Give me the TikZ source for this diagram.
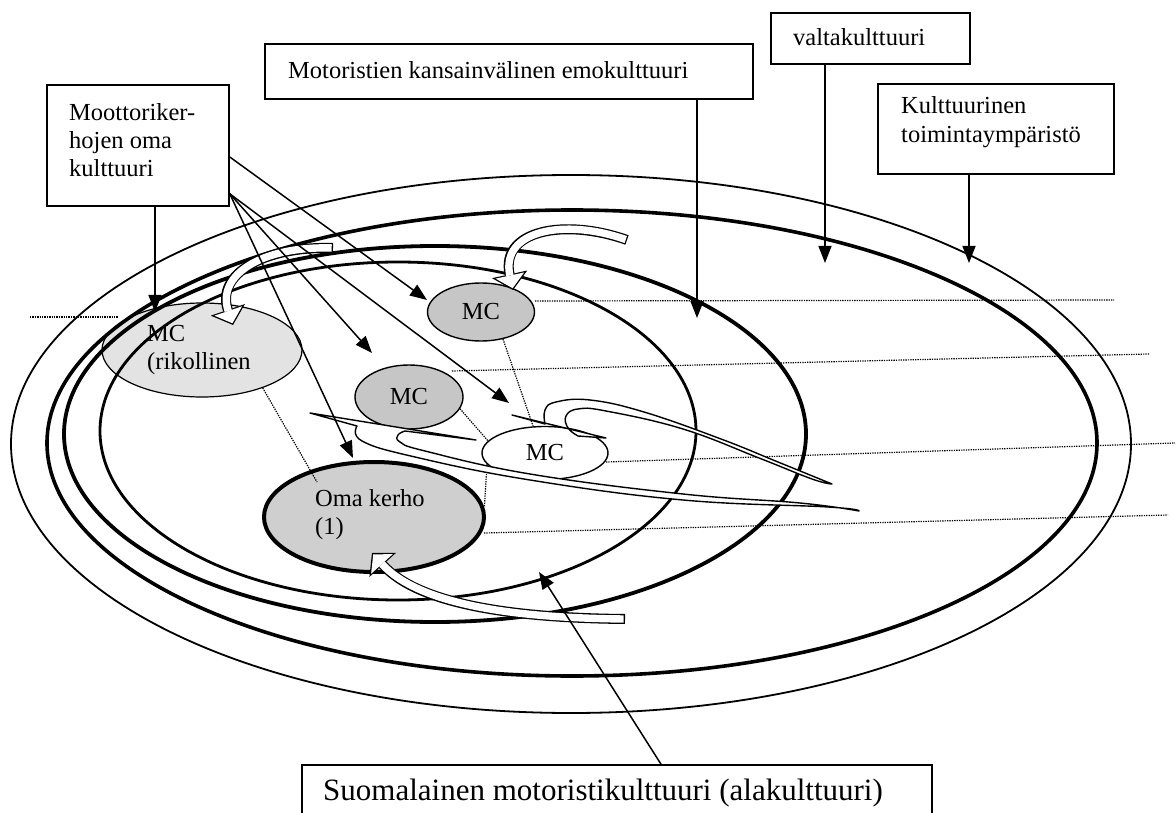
\documentclass[tikz,border=0pt]{standalone}
\usepackage{fontspec}
\setmainfont{Liberation Serif}
\usetikzlibrary{arrows.meta,shapes.geometric,calc}
\newcommand\hollowarrow[1]{\draw[hout] #1; \draw[hin] #1;}
\begin{document}
\begin{tikzpicture}[x=1pt,y=-1pt,
  fnt/.style={font=\fontsize{24.5}{28}\selectfont},
  box/.style={draw, line width=1.6pt, inner sep=0pt},
  lbl/.style={fnt, inner sep=0pt, anchor=west, align=left},
  mc/.style={ellipse, draw, line width=1.4pt, inner sep=0pt, fnt},
  arr/.style={line width=1.5pt, -{Triangle[length=17pt,width=13pt]}},
  dot/.style={line width=1.2pt, dash pattern=on 1.3pt off 1.1pt},
  hshape/.style={draw, fill=white, line width=1.4pt, line join=round},
  hout/.style={line width=10pt, -{Triangle[length=16pt,width=36pt,line width=0pt]}},
  hin/.style={line width=7.4pt, white, shorten <=1.3pt, shorten >=1.8pt, -{Triangle[length=13pt,width=29.2pt,line width=0pt]}},
]
\useasboundingbox (0,0) rectangle (1176,813);
\fill[white] (0,0) rectangle (1176,813);

% ---- MC ellipses (drawn first, big ellipses cross over them)
\node[mc, line width=1.2pt, fill=gray!22, minimum width=200pt, minimum height=94pt] (mcR) at (202,350) {};
\node[mc, fill=gray!45, minimum width=107pt, minimum height=58pt] (mcT) at (481,312) {MC};
\node[mc, fill=gray!45, minimum width=108pt, minimum height=64pt] (mcM) at (409,397) {MC};
\node[mc, fill=white, minimum width=126pt, minimum height=53pt] (mcW) at (545,453) {MC};
\node[mc, line width=4pt, fill=gray!38, minimum width=220pt, minimum height=110pt] (ok) at (374,517) {};
\node[lbl] (tR) at (147,350) {MC\\(rikollinen};
\node[lbl] (tO) at (315,515) {Oma kerho\\(1)};

% ---- big culture ellipses
\draw[line width=1.8pt] (571,444) ellipse [x radius=560pt, y radius=269pt];
\draw[line width=3.6pt] (572,443) ellipse [x radius=525pt, y radius=233pt];
\draw[line width=3.8pt] (435,434) ellipse [x radius=371pt, y radius=188pt];
\draw[line width=2.8pt] (398,431) ellipse [x radius=298pt, y radius=169pt];

% ---- dotted layer lines
\coordinate (d1a) at (30,317);   \coordinate (d1b) at (118,317);
\coordinate (d2a) at (535,301);  \coordinate (d2b) at (1114,300);
\coordinate (d3a) at (452,371);  \coordinate (d3b) at (1149,354);
\coordinate (d4a) at (606,462);  \coordinate (d4b) at (1175,443);
\coordinate (d5a) at (484,533);  \coordinate (d5b) at (1168,515);
\draw[dot] (d1a) -- (d1b);
\draw[dot] (d2a) -- (d2b);
\draw[dot] (d3a) -- (d3b);
\draw[dot] (d4a) -- (d4b);
\draw[dot] (d5a) -- (d5b);
\coordinate (c1end) at (317,482);
\draw[dot] (mcR.-32) -- (c1end);
\draw[dot] (mcT.-51) -- (mcW.114);
\draw[dot] (mcM.-13) -- (mcW.168);
\draw[dot] (mcW.191) -- (ok.5);

% ---- hollow curved arrows
\hollowarrow{(333,248) .. controls (262,246) and (216,275) .. (233,325)}
\hollowarrow{(627,240) .. controls (565,218) and (500,230) .. (513,290)}
\hollowarrow{(625,619) .. controls (520,618) and (420,606) .. (372,553)}
\draw[hshape] (476,440) -- (310,413) -- (357,426)
  -- plot[smooth, tension=0.7] coordinates {(357,426) (362,441) (415,457) (530,480) (683,500) (828,507) (859,511)}
  -- plot[smooth, tension=0.7] coordinates {(859,511) (800,503) (683,494) (530,474) (425,451) (400,442) (398,435) (405,431)}
  -- cycle;
\draw[hshape] (512,415) -- (545,424)
  -- plot[smooth, tension=0.7] coordinates {(545,424) (545,410) (556,402) (590,400) (644,412) (721,439) (778,462) (832,484)}
  -- plot[smooth, tension=0.7] coordinates {(832,484) (812,479) (759,458) (683,429) (606,411) (578,409) (566,416) (568,428) (578,436)}
  -- (606,438) -- cycle;

% ---- label boxes
\node[box, minimum width=182pt, minimum height=121pt] (b1) at (138,145.5) {};
\node[lbl] (t1) at (69,140) {Moottoriker-\\hojen oma\\kulttuuri};
\node[box, minimum width=488pt, minimum height=55pt] (b2) at (509,71.5) {};
\node[lbl] (t2) at (288,70) {Motoristien kansainvälinen emokulttuuri};
\node[box, minimum width=199pt, minimum height=51pt] (b3) at (870.5,38.5) {};
\node[lbl] (t3) at (793,37) {valtakulttuuri};
\node[box, minimum width=236pt, minimum height=90pt] (b4) at (996,129) {};
\node[lbl, font=\fontsize{24.5}{29}\selectfont] (t4) at (901,122.5) {Kulttuurinen\\toimintaympäristö};
\node[box, fill=white, minimum width=630pt, minimum height=70pt] (b5) at (617,800) {};
\node[lbl, font=\fontsize{31}{36}\selectfont] (t5) at (323,793) {Suomalainen motoristikulttuuri (alakulttuuri)};

% ---- arrows
\coordinate (tipR) at (155,312);
\coordinate (tipT) at (427,300);
\coordinate (tipM) at (372,353);
\coordinate (tipW) at (509,403);
\coordinate (tipO) at (353,458);
\coordinate (tipE3) at (697,318);
\coordinate (tipE2) at (825,263);
\coordinate (tipE1) at (969,263);
\coordinate (tipE4) at (539,572);
\coordinate (fan) at ($(b1.south east)+(0,-13)$);
\coordinate (b1r) at ($(b1.east)+(0,11.5)$);
\draw[arr] (b1.south -| tipR) -- (tipR);
\draw[arr] (b1r) -- (tipT);
\draw[arr] (fan) -- (tipM);
\draw[arr] (fan) -- (tipW);
\draw[arr] (fan) -- (tipO);
\draw[arr] (b2.south -| tipE3) -- (tipE3);
\draw[arr] (b3.south -| tipE2) -- (tipE2);
\draw[arr] (b4.south -| tipE1) -- (tipE1);
\draw[arr] ($(b5.north)+(44,0)$) -- (tipE4);
\end{tikzpicture}
\end{document}
